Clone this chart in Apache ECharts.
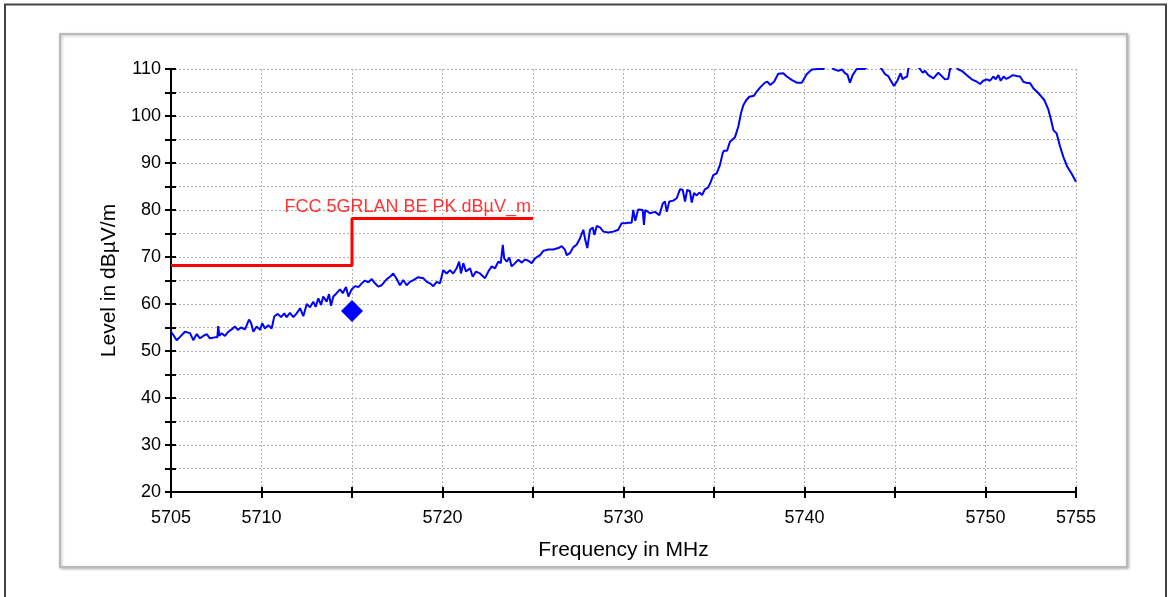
<!DOCTYPE html>
<html><head><meta charset="utf-8">
<script src="https://cdn.jsdelivr.net/npm/echarts@6/dist/echarts.min.js"></script>
<style>html,body{margin:0;padding:0;background:#fff;}#c{width:1171px;height:597px;}</style>
</head><body><div id="c"></div>
<script>
// ---- data ----
const freqMHz = [
5705.00,5705.13,5705.31,5705.50,5705.77,5706.05,5706.23,5706.42,5706.60,5706.78,5706.97,5707.15,5707.43,5707.56,5707.61,5707.67,5707.80,5707.98,
5708.17,5708.35,5708.54,5708.69,5708.87,5709.09,5709.31,5709.42,5709.55,5709.73,5709.92,5710.04,5710.19,5710.38,5710.56,5710.71,5710.90,
5711.08,5711.26,5711.39,5711.57,5711.76,5711.94,5712.13,5712.31,5712.50,5712.68,5712.86,5712.99,5713.14,5713.29,5713.41,5713.60,5713.73,
5713.84,5713.97,5714.15,5714.34,5714.49,5714.67,5714.80,5714.98,5715.17,5715.35,5715.54,5715.72,5715.90,5716.09,5716.27,5716.45,5716.64,
5716.92,5717.10,5717.28,5717.47,5717.65,5717.83,5718.02,5718.20,5718.39,5718.66,5718.94,5719.13,5719.31,5719.49,5719.68,5719.86,
5720.04,5720.23,5720.41,5720.59,5720.78,5720.92,5721.02,5721.15,5721.30,5721.52,5721.67,5721.85,5722.07,5722.35,5722.53,5722.72,5722.90,
5723.08,5723.22,5723.33,5723.41,5723.55,5723.69,5723.82,5724.01,5724.19,5724.38,5724.56,5724.74,5724.93,5725.11,5725.39,5725.57,5725.85,
5726.12,5726.40,5726.59,5726.77,5726.86,5727.04,5727.23,5727.41,5727.60,5727.78,5727.89,5728.00,5728.15,5728.30,5728.39,5728.52,5728.70,
5728.89,5729.16,5729.44,5729.71,5729.90,5730.08,5730.18,5730.27,5730.45,5730.54,5730.65,5730.81,5731.06,5731.13,5731.20,5731.46,5731.74,
5731.98,5732.17,5732.29,5732.39,5732.53,5732.75,5732.94,5733.12,5733.27,5733.40,5733.52,5733.67,5733.77,5733.90,5734.04,5734.19,5734.34,
5734.50,5734.68,5734.82,5734.96,5735.15,5735.33,5735.48,5735.55,5735.72,5735.88,5736.16,5736.34,5736.49,5736.62,5736.77,5736.95,5737.21,
5737.36,5737.58,5737.82,5737.95,5738.10,5738.32,5738.55,5738.83,5739.02,5739.29,5739.57,5739.85,5740.12,5740.40,5740.77,5741.04,5741.19,
5741.41,5741.59,5741.87,5742.06,5742.24,5742.37,5742.51,5742.66,5742.88,5743.34,5743.62,5743.95,5744.26,5744.45,5744.63,5744.72,5744.94,
5745.13,5745.31,5745.42,5745.55,5745.67,5745.73,5746.04,5746.38,5746.53,5746.66,5746.84,5747.12,5747.39,5747.58,5747.76,5747.94,5748.04,
5748.26,5748.50,5748.69,5748.96,5749.24,5749.52,5749.70,5749.88,5750.07,5750.25,5750.43,5750.57,5750.71,5750.84,5751.00,5751.13,5751.31,
5751.50,5751.72,5751.91,5752.09,5752.31,5752.46,5752.64,5752.83,5753.05,5753.25,5753.47,5753.60,5753.75,5753.93,5754.12,5754.30,5754.41,
5754.52,5754.76,5755.00
];
const levelDb = [
54.1,53.4,52.3,53.0,54.1,53.8,52.3,53.6,52.7,53.2,53.6,52.7,52.9,52.9,55.3,53.2,53.8,53.2,
54.1,54.6,55.2,54.5,55.0,54.6,56.7,56.0,54.1,55.2,54.5,55.9,54.8,55.5,54.8,57.4,57.9,
57.2,58.0,57.2,58.1,57.2,58.0,59.1,57.4,60.0,59.3,60.5,59.4,61.2,59.8,61.6,60.5,62.1,
59.6,61.6,62.3,63.1,62.3,63.6,61.6,63.1,63.8,63.6,64.4,65.0,64.6,65.3,64.4,63.7,64.0,
65.3,65.8,66.5,65.3,64.0,65.1,64.0,64.7,65.1,65.7,65.5,64.7,64.4,63.8,64.7,64.4,
67.2,66.5,67.2,66.5,67.6,69.0,66.5,68.7,66.9,67.6,65.8,66.9,66.5,65.5,66.9,68.0,67.6,
69.0,68.7,72.6,69.7,69.0,69.9,68.0,68.7,69.4,68.8,69.5,69.2,68.7,69.7,70.4,71.3,71.6,
71.6,71.9,72.3,71.5,70.4,70.8,72.1,72.6,74.0,75.8,73.6,71.9,75.8,76.3,74.7,76.6,76.3,
75.4,75.2,75.4,75.8,77.2,77.2,77.5,77.3,77.3,80.0,77.7,80.1,80.0,76.8,80.0,79.3,79.6,
78.9,81.4,81.8,79.6,81.8,82.0,82.5,84.4,84.3,81.8,84.3,84.0,81.6,83.6,83.1,83.7,83.2,
84.4,84.8,86.0,87.4,87.8,89.6,92.1,92.6,92.6,94.5,95.5,97.7,100.6,102.3,103.3,104.1,104.3,
105.2,106.2,107.1,107.3,106.6,107.3,109.0,109.1,108.4,107.7,107.1,107.1,108.9,109.9,110.0,110.0,111.0,
111.5,110.0,109.6,109.9,109.1,108.8,107.1,108.7,110.0,110.0,111.0,111.5,110.0,108.9,108.5,107.8,106.4,
107.5,109.1,107.8,108.2,108.4,110.0,111.5,110.0,109.2,109.6,108.7,108.0,109.2,108.5,107.8,107.9,110.0,
111.0,109.9,109.6,108.7,107.8,107.3,106.8,107.5,107.8,107.5,108.4,107.8,108.7,107.5,108.4,107.9,108.2,
108.7,108.5,108.4,107.3,107.0,107.0,105.9,105.2,104.3,103.4,101.4,99.5,97.0,96.3,93.5,91.3,91.0,
89.2,87.7,86.0
];
const limitFreq = [5705, 5715, 5715, 5725];
const limitLevel = [68.2, 68.2, 78.2, 78.2];
const limitName = 'FCC 5GRLAN BE PK dBµV_m';
const markerFreq = [5715];
const markerLevel = [58.5];
const xTickLabels = [5705, 5710, 5720, 5730, 5740, 5750, 5755];
const yTickLabels = [20, 30, 40, 50, 60, 70, 80, 90, 100, 110];
const xName = 'Frequency in MHz';
const yName = 'Level in dBµV/m';

// ---- chart ----
const FONT = '"Liberation Sans", Arial, sans-serif';
const chart = echarts.init(document.getElementById('c'), null, {renderer: 'canvas'});
const gridPos = {left: 171, right: 95, top: 69, bottom: 105, containLabel: false};
const xBase = {type: 'value', min: 5705, max: 5755, interval: 5};
const yBase = {type: 'value', min: 20, max: 110, interval: 5};
const axLine = {show: true, onZero: false, lineStyle: {color: '#000', width: 2}};
const gridLine = {show: true, lineStyle: {color: '#b4b4b4', width: 1, type: [2, 2]}};

const spectrum = freqMHz.map((f, i) => [f, levelDb[i]]);
const limit = limitFreq.map((f, i) => [f, limitLevel[i]]);
const marker = markerFreq.map((f, i) => [f, markerLevel[i]]);

chart.setOption({
  animation: false,
  backgroundColor: '#fff',
  graphic: [
    {type: 'rect', z: -20, silent: true, shape: {x: 5, y: 4.5, width: 1161, height: 640},
     style: {fill: '#fff', stroke: '#444', lineWidth: 2}},
    {type: 'rect', z: -10, silent: true, shape: {x: 60, y: 34, width: 1067, height: 533},
     style: {fill: '#fff', stroke: '#b9b9b9', lineWidth: 2, shadowBlur: 3, shadowColor: 'rgba(0,0,0,0.25)', shadowOffsetX: 1, shadowOffsetY: 1}}
  ],
  grid: [Object.assign({}, gridPos), Object.assign({}, gridPos)],
  xAxis: [
    Object.assign({}, xBase, {
      gridIndex: 0, position: 'bottom',
      name: xName, nameLocation: 'middle', nameGap: 48,
      nameTextStyle: {fontFamily: FONT, fontSize: 21, color: '#000'},
      axisLine: axLine,
      axisTick: {show: true, inside: false, length: 6, lineStyle: {color: '#000', width: 2}},
      axisLabel: {show: true, margin: 17, fontFamily: FONT, fontSize: 18, color: '#000',
        formatter: v => xTickLabels.indexOf(v) >= 0 ? String(v) : ''},
      splitLine: gridLine
    }),
    Object.assign({}, xBase, {
      gridIndex: 1, position: 'bottom', axisLine: axLine,
      axisTick: {show: true, inside: true, length: 5, lineStyle: {color: '#000', width: 2}},
      axisLabel: {show: false}, splitLine: {show: false}
    })
  ],
  yAxis: [
    Object.assign({}, yBase, {
      gridIndex: 0, position: 'left',
      name: yName, nameLocation: 'middle', nameGap: 50, nameRotate: 90,
      nameTextStyle: {fontFamily: FONT, fontSize: 21, color: '#000'},
      axisLine: axLine,
      axisTick: {show: true, inside: false, length: 6, lineStyle: {color: '#000', width: 2}},
      axisLabel: {show: true, margin: 10, fontFamily: FONT, fontSize: 18, color: '#000',
        formatter: v => yTickLabels.indexOf(v) >= 0 ? String(v) : ''},
      splitLine: gridLine
    }),
    Object.assign({}, yBase, {
      gridIndex: 1, position: 'left', axisLine: axLine,
      axisTick: {show: true, inside: true, length: 5, lineStyle: {color: '#000', width: 2}},
      axisLabel: {show: false}, splitLine: {show: false}
    })
  ],
  series: [
    {
      name: 'Spectrum', type: 'line', xAxisIndex: 0, yAxisIndex: 0,
      data: spectrum, showSymbol: false, symbol: 'none', clip: true,
      lineStyle: {color: '#0000ff', width: 2}, z: 3
    },
    {
      name: limitName, type: 'line', xAxisIndex: 0, yAxisIndex: 0,
      data: limit, showSymbol: false, symbol: 'none', clip: true,
      lineStyle: {color: '#ff0000', width: 3}, z: 4
    },
    {
      name: 'limitLabel', type: 'scatter', xAxisIndex: 0, yAxisIndex: 0,
      data: [limit[limit.length - 1]], symbolSize: 0, silent: true,
      itemStyle: {color: 'rgba(0,0,0,0)'},
      label: {show: true, formatter: limitName, position: [-2, -2], align: 'right', verticalAlign: 'bottom',
        fontFamily: FONT, fontSize: 18, color: '#ff0000'}, z: 5
    },
    {
      name: 'Marker', type: 'scatter', xAxisIndex: 0, yAxisIndex: 0,
      data: marker, symbol: 'diamond', symbolSize: [22, 22],
      itemStyle: {color: '#0000ff', opacity: 1}, z: 6
    }
  ]
});
</script>
</body></html>
